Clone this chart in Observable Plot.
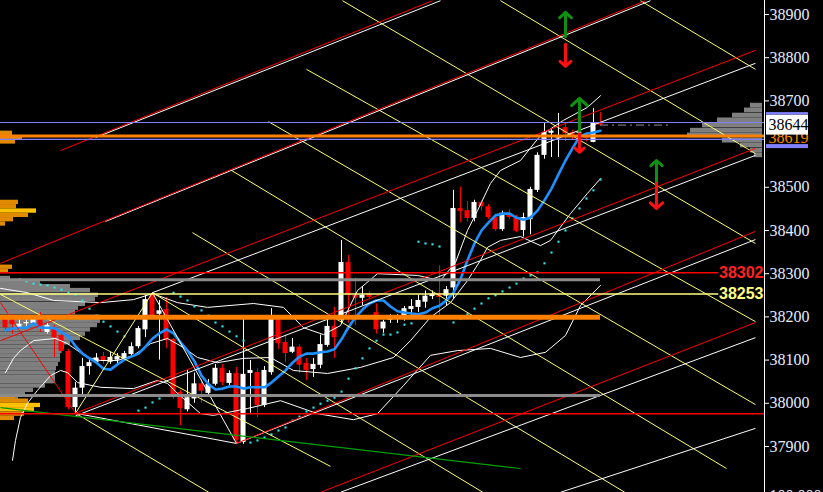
<!DOCTYPE html>
<html><head><meta charset="utf-8">
<script src="https://cdn.jsdelivr.net/npm/d3@7"></script>
<script src="https://cdn.jsdelivr.net/npm/@observablehq/plot@0.6"></script>
<style>html,body{margin:0;padding:0;background:#000;overflow:hidden}</style>
</head><body><div id="chart"></div>
<script>
// ---- candles (bar index 0..85) ----
const opens  = [38196,38194,38175,38184,38185,38203,38164,38173,38157,38120,37990,38035,38085,38094,38108,38095,38100,38102,38113,38131,38170,38253,38206,38217,38148,38025,37985,38010,38045,38023,38044,38081,38046,38069,37909,38069,38071,37995,38071,38196,38141,38118,38130,38092,38078,38088,38134,38178,38192,38326,38250,38243,38252,38210,38172,38192,38194,38196,38217,38222,38234,38247,38254,38248,38267,38451,38446,38428,38465,38455,38430,38402,38440,38430,38400,38425,38493,38574,38625,38614,38638,38627,38626,38620,38604,38650];
const highs  = [38200,38205,38203,38195,38203,38210,38187,38180,38165,38125,38048,38104,38106,38115,38118,38118,38115,38120,38140,38178,38250,38256,38238,38245,38150,38030,38077,38070,38055,38055,38090,38090,38075,38083,38196,38099,38080,38085,38219,38200,38158,38150,38135,38104,38104,38158,38192,38222,38377,38342,38290,38270,38258,38230,38192,38205,38205,38224,38240,38250,38260,38260,38318,38270,38493,38500,38467,38470,38468,38460,38435,38445,38448,38435,38440,38500,38580,38650,38636,38671,38645,38632,38640,38626,38682,38673];
const lows   = [38170,38160,38170,38175,38180,38164,38160,38106,38115,37985,37977,38018,38065,38090,38090,38090,38092,38098,38110,38126,38152,38195,38100,38127,38010,37948,37980,38000,38000,38015,38040,38040,38040,37907,37905,37977,37967,37990,38065,38125,38095,38115,38069,38053,38060,38080,38130,38104,38185,38185,38180,38226,38240,38160,38162,38185,38185,38190,38200,38210,38220,38240,38198,38225,38240,38418,38420,38420,38445,38425,38398,38398,38425,38395,38385,38390,38488,38565,38569,38569,38606,38608,38610,38605,38603,38642];
const closes = [38175,38182,38183,38187,38201,38180,38180,38152,38120,37990,38035,38085,38094,38105,38097,38106,38108,38115,38131,38173,38240,38203,38214,38145,38015,37988,38013,38045,38028,38044,38081,38048,38069,37914,38067,38076,37995,38076,38196,38138,38115,38130,38088,38076,38090,38136,38178,38152,38326,38250,38243,38250,38245,38170,38188,38195,38197,38219,38224,38238,38248,38253,38245,38263,38451,38444,38428,38465,38455,38430,38402,38440,38430,38398,38430,38495,38574,38627,38630,38618,38624,38620,38627,38613,38650,38644];

// ---- moving average (blue) ----
const maValues = [38169,38173,38175,38175,38185,38175,38175,38174,38164,38155,38132,38115,38104,38094,38080,38078,38090,38101,38108,38115,38131,38150,38162,38171,38162,38141,38122,38097,38064,38044,38032,38034,38039,38039,38034,38037,38037,38037,38048,38062,38076,38094,38108,38115,38115,38118,38120,38125,38148,38176,38199,38217,38231,38238,38238,38224,38213,38210,38208,38206,38210,38220,38226,38238,38256,38287,38331,38370,38400,38418,38435,38439,38439,38430,38425,38430,38446,38470,38497,38530,38562,38590,38617,38624,38627,38631];

// ---- parabolic SAR dots (null = no dot) ----
const sarValues = [null,null,38287,38282,38277,38275,38273,38268,38263,38256,38252,38238,38219,38203,38189,38178,38166,38155,null,37983,37990,38002,38011,38018,38256,38247,38238,38224,38215,38203,38187,38178,38166,38155,38145,37909,37914,37921,37928,37937,37944,37960,37969,37981,37990,37999,38006,38013,38027,38057,38081,38104,38127,38145,38159,38159,38164,38182,38185,38374,38370,38368,38363,null,38187,38196,38206,38219,38231,38243,38250,38259,38268,38277,38289,38296,38303,38324,38349,38374,38400,38428,38451,38474,38493,38518];

// ---- envelope / band curves (white) ----
const upperBandBars   = [-0.71,3.14,6.86,13.57,18.29,21,24.57,28.86,35.43,39.71,42.57,45.43,47.86,50.29,53.14,58.86,62.14,64.29,66,67.43,69.29,70.71,73.57,76.43,79.71,83.14,85];
const upperBandPrices = [38266,38256,38238,38233,38240,38254,38233,38222,38231,38222,38175,38159,38180,38261,38300,38296,38284,38326,38400,38446,38509,38539,38562,38620,38655,38685,38712];
const middleBandBars   = [0,1.14,2.14,4,7.14,8.86,11.71,13.57,16,18.29,20.71,23.14,25.43,27.43,30.29,34,37.86,41.14,46,50.71,55.43,57.86,60.71,63.57,66,67.86,68.86,70.71,73.57,76.43,77.86,80.71,83.14,85];
const middleBandPrices = [38071,38104,38122,38145,38150,38138,38106,38099,38099,38111,38138,38150,38129,38106,38094,38104,38106,38076,38069,38083,38106,38145,38199,38233,38284,38331,38361,38377,38386,38365,38377,38439,38486,38520];
const lowerBandBars   = [1,1.43,2.14,3.14,4.57,6.43,7.86,8.86,10.29,13.57,18.29,21.71,23.14,24.57,27.86,29.71,34.57,39.29,44.57,49.71,53.14,56.86,60.71,64.57,69.29,73.57,77.14,80,82.14,85];
const lowerBandPrices = [37868,37914,37967,38000,38030,38064,38076,38071,38048,38037,38034,38053,38046,38023,37976,37972,37988,38006,37976,37962,37976,38041,38111,38122,38127,38106,38118,38157,38226,38273];

// ---- drawn objects: trend lines [bar1, price1, bar2, price2] ----
const redTrend = [
  [7.86,38585,61,38932],[-0.71,38324,91.43,38932],[-0.71,38145,107.14,38817],
  [10,37977,107.14,38590],[33,37907,107.14,38398],[45,37794,107.14,38187],[-0.71,38233,10,37977]
];
const whiteTrend = [
  [12.86,38615,62.14,38932],[14.29,38421,92.14,38932],[21,38256,107.14,38787],
  [10,37971,107.14,38574],[33,37907,107.14,38379],[47.86,37794,107.14,38152],
  [79.29,37794,107.14,37942],[21,38256,33,37907],[10,37977,33,37907]
];
const yellowTrend = [
  [10,37977,21,38256],[90.71,38932,107.14,38773],[70.71,38932,107.14,38578],
  [48.14,38932,107.14,38370],[43,38773,107.14,38189],[37.57,38652,107.14,37997],
  [32.29,38539,103,37849],[26.71,38395,88.57,37793],[21,38256,68.29,37793],
  [10,37977,29.14,37793],[-0.71,38252,46.43,37854]
];
const greenTrend = [[-0.71,37990,73.57,37849],[5.43,38196,13.57,38196]];

// ---- horizontal levels ----
const purpleLevels = [38650, 38611];
const currentOrangeLevel = 38619;
const redLevel = 38302;
const yellowLevel = 38253;
const grayLevels = [38286, 38018];
const orangeZoneLevel = 38199;
const lowRedLevel = 37976;
const bidPrice = 38644;

// ---- arrows (bar, from, to) ----
const greenArrows = [[80,38849,38905],[82,38631,38706],[93,38509,38562]];
const redArrows   = [[80,38831,38780],[82,38624,38581],[93,38509,38451]];

// ---- volume profiles (price level, volume) ----
const leftGrayPrices  = [38289,38280,38270,38261,38250,38240,38229,38220,38210,38199,38190,38180,38170,38160,38150,38140,38130,38120,38110,38100,38090,38080,38070,38060,38050,38040,38030,38020,38010];
const leftGrayVolumes = [10,40,70,90,98,95,85,78,75,100,100,97,90,85,80,70,64,62,60,60,58,56,55,55,55,45,33,25,18];
const leftOrangePrices  = [38015,38005,37995,37985,37975,37965,38465,38455,38445,38435,38425,38415,38315,38305,38625,38615,38605];
const leftOrangeVolumes = [15,28,40,34,24,14,18,16,36,28,13,5,12,8,12,22,15];
const rightGrayPrices  = [38689,38678,38666,38655,38643,38631,38620,38608,38597,38585,38574];
const rightGrayVolumes = [12,18,30,45,60,72,75,40,22,12,8];

const yTicks = [37900,38000,38100,38200,38300,38400,38500,38700,38800,38900];

// ---- scales ----
const PX_PER_BAR = 7;
const X0 = -0.714, XEND = 108.43;
const YMIN = 37793.5, YMAX = 38932.4;
const PTS_PER_PX = (YMAX - YMIN) / 492;

const candles = opens.map((o, i) => ({i, o, h: highs[i], l: lows[i], c: closes[i], up: closes[i] >= o}));
const bodies = candles.map(d => {
  let lo = Math.min(d.o, d.c), hi = Math.max(d.o, d.c);
  if (hi - lo < 2.5) { const m = (hi + lo) / 2; lo = m - 1.3; hi = m + 1.3; }
  return {...d, lo, hi};
});
const ma = maValues.map((v, i) => ({i, v}));
const sar = sarValues.map((v, i) => ({i, v})).filter(d => d.v != null);
const band = (xs, ys) => xs.map((x, k) => ({x, y: ys[k]}));
const segs = arr => arr.map(([x1, y1, x2, y2]) => ({x1, y1, x2, y2}));
const prof = (ps, vs) => ps.map((p, k) => ({p, v: vs[k]}));
const arrows = arr => arr.map(([x, y1, y2]) => ({x, y1, y2}));
const hl = (p, a, b) => ({p, a, b});

const colorOf = d => d.up ? "#ffffff" : "#ff0000";

const chart = Plot.plot({
  width: 823, height: 492,
  marginLeft: 0, marginRight: 59, marginTop: 0, marginBottom: 0,
  x: {domain: [X0, XEND], axis: null},
  y: {domain: [YMIN, YMAX], axis: null},
  style: {background: "#000", overflow: "visible"},
  marks: [
    // background volume profiles
    Plot.rect(prof(leftGrayPrices, leftGrayVolumes), {x1: X0, x2: d => X0 + d.v / PX_PER_BAR, y1: d => d.p - 5, y2: d => d.p + 5, fill: "#7f7f7f"}),
    Plot.rect(prof(leftOrangePrices, leftOrangeVolumes), {x1: X0, x2: d => X0 + d.v / PX_PER_BAR, y1: d => d.p - 5, y2: d => d.p + 5, fill: d => d.v > 30 ? "#ffc000" : "#e08a00"}),
    Plot.rect(prof(rightGrayPrices, rightGrayVolumes), {x1: d => XEND - 2 / PX_PER_BAR - d.v / PX_PER_BAR, x2: XEND - 2 / PX_PER_BAR, y1: d => d.p - 5.5, y2: d => d.p + 5.5, fill: "#7f7f7f"}),

    // candles
    Plot.ruleX(candles, {x: "i", y1: "l", y2: "h", stroke: colorOf, strokeWidth: 1}),
    Plot.rect(bodies, {x1: d => d.i - 0.36, x2: d => d.i + 0.36, y1: "lo", y2: "hi", fill: colorOf}),

    // indicators
    Plot.line(band(upperBandBars, upperBandPrices), {x: "x", y: "y", stroke: "#fff", strokeWidth: 1}),
    Plot.line(band(middleBandBars, middleBandPrices), {x: "x", y: "y", stroke: "#fff", strokeWidth: 1}),
    Plot.line(band(lowerBandBars, lowerBandPrices), {x: "x", y: "y", stroke: "#fff", strokeWidth: 1, clip: true}),
    Plot.dot(sar, {x: "i", y: "v", symbol: "square", r: 1.2, fill: "#2ee6e6"}),
    Plot.line(ma, {x: "i", y: "v", stroke: "#1e90ff", strokeWidth: 2.6}),

    // trend lines
    Plot.link(segs(yellowTrend), {x1: "x1", y1: "y1", x2: "x2", y2: "y2", stroke: "#ffff70", strokeWidth: 1, clip: true}),
    Plot.link(segs(whiteTrend), {x1: "x1", y1: "y1", x2: "x2", y2: "y2", stroke: "#ffffff", strokeWidth: 1, clip: true}),
    Plot.link(segs(redTrend), {x1: "x1", y1: "y1", x2: "x2", y2: "y2", stroke: "#ff0000", strokeWidth: 1, clip: true}),
    Plot.link(segs(greenTrend), {x1: "x1", y1: "y1", x2: "x2", y2: "y2", stroke: "#00a000", strokeWidth: 1.2, clip: true}),

    // horizontal levels
    Plot.ruleY(grayLevels.map(p => hl(p, X0, 85)), {y: "p", x1: "a", x2: "b", stroke: "#8c8c8c", strokeWidth: 3}),
    Plot.ruleY([hl(orangeZoneLevel, X0, 85)], {y: "p", x1: "a", x2: "b", stroke: "#ff8000", strokeWidth: 5}),
    Plot.ruleY([hl(redLevel, X0, 101.9)], {y: "p", x1: "a", x2: "b", stroke: "#ff0000", strokeWidth: 1.5}),
    Plot.ruleY([hl(yellowLevel, X0, 101.9)], {y: "p", x1: "a", x2: "b", stroke: "#ffff80", strokeWidth: 1.5}),
    Plot.ruleY([hl(lowRedLevel, X0, XEND)], {y: "p", x1: "a", x2: "b", stroke: "#ff0000", strokeWidth: 1.5}),
    Plot.ruleY(purpleLevels.map(p => hl(p, X0, XEND)), {y: "p", x1: "a", x2: "b", stroke: "#8080ff", strokeWidth: 1.2}),
    Plot.ruleY([hl(currentOrangeLevel, X0, XEND)], {y: "p", x1: "a", x2: "b", stroke: "#ff8000", strokeWidth: 3}),
    Plot.ruleY([hl(bidPrice, 85, 95)], {y: "p", x1: "a", x2: "b", stroke: "#909090", strokeWidth: 1, strokeDasharray: "8,4,2,4"}),

    // arrows
    Plot.arrow(arrows(greenArrows), {x1: "x", x2: "x", y1: "y1", y2: "y2", stroke: "#109010", strokeWidth: 3, headLength: 11, headAngle: 95}),
    Plot.arrow(arrows(redArrows), {x1: "x", x2: "x", y1: "y1", y2: "y2", stroke: "#ff1010", strokeWidth: 3, headLength: 11, headAngle: 95}),

    // level labels
    Plot.text([redLevel], {x: XEND, y: d => d, text: d => String(d), dx: -1, textAnchor: "end", fill: "#ff2020", fontWeight: "bold", fontSize: 16, fontFamily: "Liberation Sans"}),
    Plot.text([yellowLevel], {x: XEND, y: d => d, text: d => String(d), dx: -1, textAnchor: "end", fill: "#ffff80", fontWeight: "bold", fontSize: 16, fontFamily: "Liberation Sans"}),

    // right price axis
    Plot.ruleX([XEND], {stroke: "#ffffff", strokeWidth: 1}),
    Plot.axisY(yTicks, {anchor: "right", tickSize: 4, tickPadding: 1, stroke: "#ffffff", fill: "#e6ecff", fontSize: 16, fontFamily: "Liberation Serif", tickFormat: d => String(d)}),
    Plot.text(["100.000"], {x: XEND, y: YMIN, dx: 5, dy: 3, textAnchor: "start", lineAnchor: "middle", fill: "#e6ecff", fontSize: 16, fontFamily: "Liberation Serif"}),

    // current price boxes
    Plot.text([currentOrangeLevel], {x: XEND, y: d => d, text: d => String(d), dx: 4, dy: 2, textAnchor: "start", fill: "#ff8c00", fontSize: 16, fontFamily: "Liberation Serif"}),
    Plot.rect([bidPrice], {x1: XEND + 2 / PX_PER_BAR, x2: XEND + 44 / PX_PER_BAR, y1: bidPrice - 10 * PTS_PER_PX, y2: bidPrice + 10 * PTS_PER_PX, fill: "#ffffff"}),
    Plot.rect([bidPrice], {x1: XEND + 2 / PX_PER_BAR, x2: XEND + 44 / PX_PER_BAR, y1: bidPrice + 10 * PTS_PER_PX, y2: bidPrice + 12.5 * PTS_PER_PX, fill: "#8080ff"}),
    Plot.rect([bidPrice], {x1: XEND + 2 / PX_PER_BAR, x2: XEND + 44 / PX_PER_BAR, y1: bidPrice - 23.5 * PTS_PER_PX, y2: bidPrice - 19.5 * PTS_PER_PX, fill: "#8080ff"}),
    Plot.text([bidPrice], {x: XEND, y: d => d, text: d => String(d), dx: 4, textAnchor: "start", fill: "#000", fontSize: 16, fontFamily: "Liberation Serif"})
  ]
});
document.getElementById("chart").appendChild(chart);
</script>
</body></html>
